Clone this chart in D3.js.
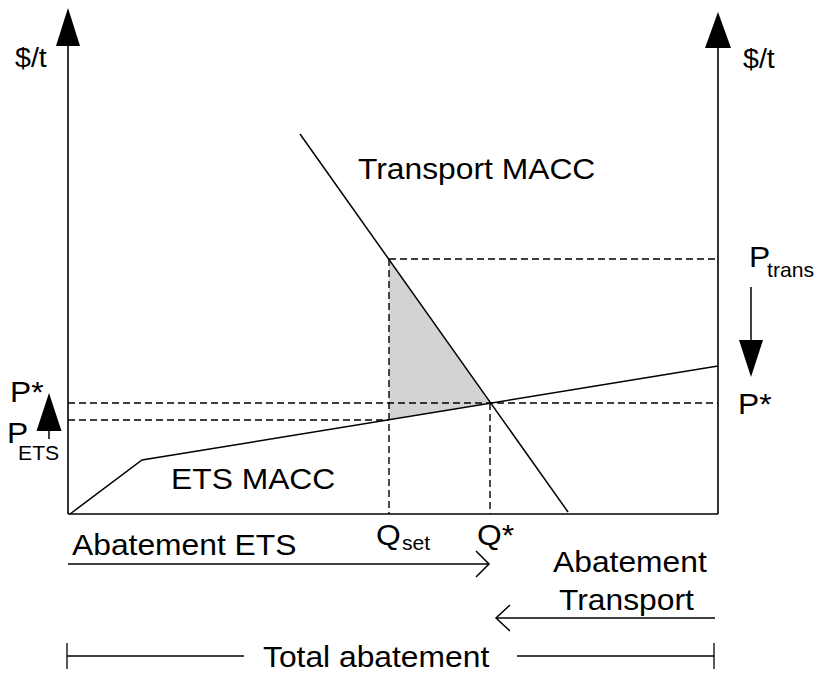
<!DOCTYPE html>
<html><head><meta charset="utf-8">
<script src="https://cdn.jsdelivr.net/npm/d3@7"></script>
<style>html,body{margin:0;padding:0;background:#fff}svg{display:block}</style>
</head><body>
<svg id="chart" width="816" height="673"></svg>
<script>
// ---- data (abstract quantity / price units) ----
const etsMacc = [[2, 0], [74, 54], [650, 148]];
const transportMacc = [[232, 380], [500, 2]];
const qSet = 321, qStar = 422;
const pStar = 111, pEts = 94, pTrans = 255;
const qMax = 650, pMax = 500;

const svg = d3.select("#chart");
const x = d3.scaleLinear().domain([0, qMax]).range([68, 718]);
const y = d3.scaleLinear().domain([0, pMax]).range([514, 14]);
const line = d3.line().x(d => x(d[0])).y(d => y(d[1]));
const FONT = "'Liberation Sans', Arial, Helvetica, sans-serif";
const SX = 1.06;

// shaded triangle
svg.append("path")
  .attr("d", line([[qSet, pTrans], [qStar, pStar], [qSet, pEts]]) + "Z")
  .attr("fill", "#d3d3d3").attr("stroke", "none");

// dashed guide lines
const dashes = [
  [[qSet, pTrans], [qMax, pTrans]],
  [[0, pStar], [qMax, pStar]],
  [[0, pEts], [qSet, pEts]],
  [[qSet, pTrans], [qSet, 0]],
  [[qStar, pStar], [qStar, 0]]
];
svg.selectAll("path.dash").data(dashes).join("path")
  .attr("class", "dash").attr("d", line)
  .attr("fill", "none").attr("stroke", "#000").attr("stroke-width", 1.4)
  .attr("stroke-dasharray", "7,4");

// axes
const axisPaths = [
  [[0, 0], [qMax, 0]],
  [[0, 0], [0, y.invert(45)]],
  [[qMax, 0], [qMax, y.invert(47)]]
];
svg.selectAll("path.ax").data(axisPaths).join("path")
  .attr("class", "ax").attr("d", line)
  .attr("fill", "none").attr("stroke", "#000").attr("stroke-width", 1.6);

// axis arrowheads (filled triangles)
function tri(cx, tipY, baseY, half) {
  return `M${cx},${tipY}L${cx - half},${baseY}L${cx + half},${baseY}Z`;
}
svg.append("path").attr("d", tri(x(0), 8, 46, 12)).attr("fill", "#000");
svg.append("path").attr("d", tri(x(qMax), 12, 48, 13)).attr("fill", "#000");

// MACC curves
svg.append("path").attr("d", line(etsMacc)).attr("fill", "none").attr("stroke", "#000").attr("stroke-width", 1.5);
svg.append("path").attr("d", line(transportMacc)).attr("fill", "none").attr("stroke", "#000").attr("stroke-width", 1.5);

// small price-change arrows
svg.append("line").attr("x1", 49).attr("x2", 49).attr("y1", 430).attr("y2", 439).attr("stroke", "#000").attr("stroke-width", 1.5);
svg.append("path").attr("d", tri(49, 393, 431, 12.5)).attr("fill", "#000");
svg.append("line").attr("x1", 751).attr("x2", 751).attr("y1", 287).attr("y2", 341).attr("stroke", "#000").attr("stroke-width", 1.5);
svg.append("path").attr("d", tri(751, 377, 340, 12)).attr("fill", "#000");

// abatement arrows (open chevrons)
svg.append("line").attr("x1", x(0)).attr("x2", x(qStar) - 1).attr("y1", 564).attr("y2", 564).attr("stroke", "#000").attr("stroke-width", 1.5);
svg.append("path").attr("d", `M${x(qStar) - 14},551L${x(qStar) - 1},564L${x(qStar) - 14},577`).attr("fill", "none").attr("stroke", "#000").attr("stroke-width", 1.5);
svg.append("line").attr("x1", x(qMax) - 3).attr("x2", x(qStar) + 6).attr("y1", 618).attr("y2", 618).attr("stroke", "#000").attr("stroke-width", 1.5);
svg.append("path").attr("d", `M${x(qStar) + 20},605L${x(qStar) + 6},618L${x(qStar) + 20},631`).attr("fill", "none").attr("stroke", "#000").attr("stroke-width", 1.5);

// total abatement bracket
const bY = 656;
svg.append("line").attr("x1", 67).attr("x2", 244).attr("y1", bY).attr("y2", bY).attr("stroke", "#000").attr("stroke-width", 1.3);
svg.append("line").attr("x1", 517).attr("x2", 714).attr("y1", bY).attr("y2", bY).attr("stroke", "#000").attr("stroke-width", 1.3);
svg.append("line").attr("x1", 67).attr("x2", 67).attr("y1", 643).attr("y2", 669).attr("stroke", "#000").attr("stroke-width", 1.3);
svg.append("line").attr("x1", 714).attr("x2", 714).attr("y1", 643).attr("y2", 669).attr("stroke", "#000").attr("stroke-width", 1.3);

// texts
const labels = [
  {t: "$/t", x: 15, y: 67, s: 27},
  {t: "$/t", x: 743, y: 68, s: 27},
  {t: "Transport MACC", x: 358, y: 179, s: 30},
  {t: "ETS MACC", x: 171, y: 489, s: 30},
  {t: "P*", x: 10, y: 402, s: 30},
  {t: "P", x: 7, y: 443, s: 30},
  {t: "ETS", x: 18, y: 460, s: 20},
  {t: "P", x: 749, y: 267, s: 30},
  {t: "trans", x: 767, y: 277, s: 20},
  {t: "P*", x: 738, y: 414, s: 30},
  {t: "Q", x: 376, y: 545, s: 30},
  {t: "set", x: 402, y: 550, s: 20},
  {t: "Q*", x: 477, y: 545, s: 30},
  {t: "Abatement ETS", x: 72, y: 555, s: 30},
  {t: "Abatement", x: 553, y: 572, s: 30},
  {t: "Transport", x: 559, y: 610, s: 30},
  {t: "Total abatement", x: 263, y: 667, s: 30}
];
svg.selectAll("text.lbl").data(labels).join("text")
  .attr("class", "lbl")
  .attr("transform", d => `translate(${d.x},${d.y}) scale(${SX},1)`)
  .attr("font-family", FONT).attr("font-size", d => d.s)
  .attr("fill", "#000")
  .text(d => d.t);
</script>
</body></html>
